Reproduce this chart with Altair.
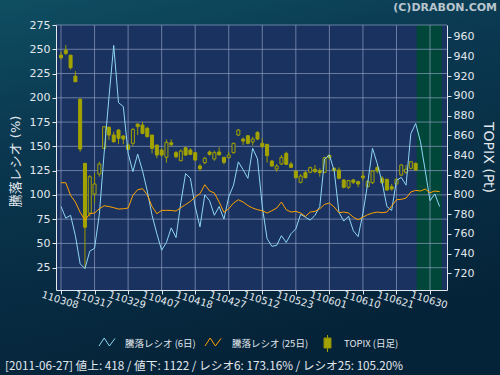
import json
import altair as alt
import pandas as pd

# ---------------- data ----------------
date_labels = ["110308", "110317", "110329", "110407", "110418", "110427",
               "110512", "110523", "110601", "110610", "110621", "110630"]
label_idx = [0, 7, 14, 21, 28, 35, 42, 49, 56, 63, 70, 77]

ratio6 = [88, 76, 79, 58, 29, 24, 42, 45, 80, 143,
          200, 254, 195, 191, 143, 124, 142, 125, 104, 79,
          60, 43, 51, 66, 56, 92, 122, 117, 88, 67,
          100, 94, 79, 88, 75, 98, 110, 134, 126, 117,
          148, 137, 88, 55, 47, 48, 58, 51, 60, 65,
          80, 77, 74, 79, 88, 137, 141, 125, 82, 73,
          78, 63, 57, 81, 112, 148, 132, 113, 88, 84,
          115, 118, 110, 163, 173.5, 155, 125, 94, 101, 88]

ratio25 = [112.5, 112.5, 99.5, 92.6, 82, 74, 80.6, 81.3, 85.7, 88.8,
           88, 86.8, 85.4, 85.7, 86.4, 99.5, 105.3, 106.4, 100, 88,
           80.6, 84, 84, 84, 83.3, 86.8, 90, 93.3, 97.8, 101.2,
           110.5, 104, 102, 92.6, 82, 85.7, 91.6, 95, 92.6, 89,
           86.4, 84.7, 83.7, 81.3, 83.7, 86.4, 92.6, 84.7, 82.3, 83,
           81.3, 77.8, 82.3, 83, 85.7, 90.2, 91.6, 87.5, 81.6, 82.3,
           81.3, 77, 74.4, 77, 79.6, 81.3, 82.3, 81.6, 82.3, 88.5,
           95, 95.4, 96.7, 103, 104.6, 104, 106, 102.2, 104, 103.3]

topix_open = [941.4, 946.5, 941.4, 920.1, 896.8, 831.6, 780.9, 800.5, 820.7, 846.8,
              868.1, 860.3, 865.4, 859.3, 850.2, 851.9, 871.5, 870.4, 867.1, 860.3,
              850.2, 845.1, 837.7, 852.5, 842.4, 834.2, 847.4, 845.1, 842.4, 828.9,
              832.2, 843.1, 836.0, 843.1, 837.7, 837.3, 842.4, 860.3, 856.2, 859.6,
              853.2, 863.0, 851.9, 850.9, 833.9, 825.8, 830.9, 841.7, 830.9, 823.8,
              812.3, 822.1, 822.5, 825.5, 824.1, 822.5, 839.7, 826.5, 824.8, 814.7,
              807.3, 814.7, 813.0, 818.7, 807.9, 811.9, 827.2, 816.4, 815.4, 807.9,
              810.6, 819.7, 822.5, 826.5, 831.6]
topix_close = [938.7, 943.2, 928.6, 914.4, 846.1, 766.7, 818.0, 810.6, 830.9, 868.7,
               860.3, 853.5, 857.0, 856.2, 845.8, 866.1, 868.8, 862.0, 858.6, 846.8,
               840.0, 840.0, 852.9, 850.5, 838.3, 844.1, 840.0, 840.7, 834.9, 826.1,
               836.7, 840.7, 842.4, 840.3, 832.6, 840.0, 851.9, 865.4, 854.2, 851.9,
               856.2, 856.2, 848.4, 839.3, 828.9, 828.9, 837.7, 830.6, 827.5, 817.0,
               818.7, 817.0, 827.2, 823.1, 822.1, 837.3, 837.3, 824.1, 816.4, 807.3,
               814.0, 812.3, 810.6, 817.0, 813.0, 823.8, 823.8, 811.9, 804.5, 805.5,
               815.4, 829.9, 825.5, 833.2, 824.8]
topix_high = [944.8, 951.6, 941.4, 925.2, 896.8, 831.6, 819.7, 821.5, 833.2, 869.4,
              869.4, 863.7, 866.1, 860.3, 851.9, 867.1, 871.5, 873.8, 868.8, 860.3,
              850.2, 846.8, 855.9, 855.9, 844.1, 845.8, 848.4, 846.8, 843.1, 830.9,
              838.3, 844.5, 844.5, 847.8, 837.7, 843.4, 852.5, 866.4, 858.0, 860.3,
              858.6, 864.4, 857.0, 850.9, 834.9, 830.9, 840.0, 843.4, 833.2, 823.8,
              820.7, 823.8, 828.2, 829.9, 826.5, 838.3, 840.7, 827.5, 827.5, 815.4,
              814.7, 815.7, 814.0, 823.8, 814.7, 824.8, 829.9, 818.7, 815.4, 810.6,
              816.4, 830.9, 829.9, 833.9, 832.2]
topix_low = [937.1, 941.4, 926.9, 914.4, 843.4, 725.1, 777.5, 791.0, 818.0, 845.8,
             855.2, 852.5, 851.0, 851.0, 845.1, 849.1, 860.3, 861.3, 858.0, 841.7,
             836.7, 838.3, 832.2, 848.4, 836.7, 834.2, 839.0, 840.0, 834.2, 823.8,
             830.6, 839.3, 834.2, 839.3, 830.6, 836.7, 841.3, 859.3, 850.2, 850.9,
             849.9, 855.2, 847.8, 832.2, 828.2, 823.1, 829.9, 829.9, 827.5, 816.4,
             811.3, 816.4, 821.5, 821.5, 818.0, 821.5, 835.3, 823.1, 815.4, 806.2,
             805.5, 810.6, 807.3, 814.0, 806.9, 810.6, 821.5, 810.6, 803.8, 803.8,
             809.6, 818.7, 820.7, 825.5, 824.1]

left_ticks = [25, 50, 75, 100, 125, 150, 175, 200, 225, 250, 275]
right_ticks = [720, 740, 760, 780, 800, 820, 840, 860, 880, 900, 920, 940, 960]
left_domain = [2, 275]
right_domain = [703, 972]
x_domain = [0, 79.5]
future_start = 74.2   # start of the shaded (future) zone, in trading-day index

series_names = ["騰落レシオ (6日)", "騰落レシオ (25日)", "TOPIX (日足)"]
status_date = "2011-06-27"
n_up, n_down = 418, 1122
ratio6_now, ratio25_now = "173.16%", "105.20%"
copyright_text = "(C)DRABON.COM"

# ---------------- styling ----------------
W, H = 391, 265
NAVY = "#1a325f"
GREEN = "#00473a"
OLIVE = "#a3a300"
BLUE = "#8ed6f5"
ORANGE = "#ffa200"
GRID = "#8d9cc0"
AX = "#e2e8ee"
FONT = "DejaVu Sans, Noto Sans CJK JP"
JFONT = "Noto Sans CJK JP"

one = pd.DataFrame({"a": [0]})

xscale = alt.Scale(domain=x_domain, nice=False, zero=False)
lscale = alt.Scale(domain=left_domain, nice=False, zero=False)
rscale = alt.Scale(domain=right_domain, nice=False, zero=False)

label_expr = json.dumps(date_labels) + "[round(datum.value/7)]"
xaxis = alt.Axis(values=label_idx, labelExpr=label_expr, title=None, grid=False,
                 domainColor=AX, tickColor=AX, tickSize=4, labelColor=AX,
                 labelFont=FONT, labelFontSize=10, labelAngle=17,
                 labelAlign="center", labelBaseline="top", labelPadding=1,
                 labelOverlap=False, labelFlush=False, zindex=2)

# ---------------- background / grid ----------------
grad = alt.Gradient(gradient="linear", x1=0, y1=0, x2=0.3, y2=1,
                    stops=[alt.GradientStop(color="#0f4e62", offset=0),
                           alt.GradientStop(color="#0a3850", offset=0.35),
                           alt.GradientStop(color="#052338", offset=1)])
bg = alt.Chart(one).mark_rect(fill=grad).encode(
    x=alt.value(-56), x2=alt.value(444), y=alt.value(-25), y2=alt.value(350))
plot_bg = alt.Chart(one).mark_rect(fill=NAVY).encode(
    x=alt.value(0), x2=alt.value(W), y=alt.value(0), y2=alt.value(H))
future = alt.Chart(pd.DataFrame({"s": [future_start], "e": [x_domain[1]]})).mark_rect(
    fill=GREEN).encode(
    x=alt.X("s:Q", scale=xscale, axis=xaxis), x2="e:Q",
    y=alt.value(0), y2=alt.value(H))
hgrid = alt.Chart(pd.DataFrame({"v": left_ticks})).mark_rule(
    stroke=GRID, strokeWidth=1, opacity=0.7).encode(
    y=alt.Y("v:Q", scale=lscale, axis=None), x=alt.value(0), x2=alt.value(W))
vgrid = alt.Chart(pd.DataFrame({"i": label_idx})).mark_rule(
    stroke=GRID, strokeWidth=1, opacity=0.7).encode(
    x=alt.X("i:Q", scale=xscale, axis=xaxis), y=alt.value(0), y2=alt.value(H))
layer_bg = alt.layer(bg, plot_bg, future, hgrid, vgrid)

# ---------------- candles ----------------
cd = pd.DataFrame({"idx": list(range(len(topix_open))), "open": topix_open,
                   "close": topix_close, "high": topix_high, "low": topix_low})
raxis = alt.Axis(orient="right", values=right_ticks, title="TOPIX (Pt)",
                 titleFont=FONT, titleFontSize=14, titleFontWeight="normal",
                 titleColor=AX, titleAngle=90, titleX=40, titleY=132,
                 titleAlign="center", titleBaseline="middle",
                 labelFont=FONT, labelFontSize=11, labelColor=AX,
                 domainColor=AX, tickColor=AX, tickSize=4, labelPadding=2,
                 grid=False, zindex=2)
wick = alt.Chart(cd).mark_rule(stroke="#9a9a00", strokeWidth=1).encode(
    x=alt.X("idx:Q", scale=xscale, axis=xaxis),
    y=alt.Y("low:Q", scale=rscale, axis=raxis), y2="high:Q")
body = alt.Chart(cd).mark_bar(size=3, stroke=OLIVE, strokeWidth=1).encode(
    x=alt.X("idx:Q", scale=xscale, axis=xaxis),
    y=alt.Y("open:Q", scale=rscale, axis=raxis), y2="close:Q",
    fill=alt.condition("datum.close >= datum.open", alt.value(NAVY), alt.value(OLIVE)))
layer_candle = alt.layer(wick, body)

# ---------------- ratio lines ----------------
n = len(ratio6)
ld = pd.DataFrame({
    "idx": list(range(n)) * 2,
    "value": ratio6 + ratio25,
    "series": [series_names[0]] * n + [series_names[1]] * n,
})
laxis = alt.Axis(orient="left", values=left_ticks, title="騰落レシオ (%)",
                 titleFont=FONT, titleFontSize=13, titleFontWeight="normal",
                 titleColor=AX, titleAngle=270, titleX=-41, titleY=136,
                 titleAlign="center", titleBaseline="middle",
                 labelFont=FONT, labelFontSize=11, labelColor=AX,
                 domainColor=AX, tickColor=AX, tickSize=4, labelPadding=2,
                 grid=False, zindex=2)
lines = alt.Chart(ld).mark_line(strokeWidth=1).encode(
    x=alt.X("idx:Q", scale=xscale, axis=xaxis),
    y=alt.Y("value:Q", scale=lscale, axis=laxis),
    color=alt.Color("series:N", scale=alt.Scale(domain=series_names[:2],
                                                range=[BLUE, ORANGE]), legend=None),
    detail="series:N")

# ---------------- legend / texts ----------------
zig = "M-1,0.5L-0.35,-0.5L0.3,0.5L1,-0.45"
deco = []
deco.append(alt.Chart(one).mark_point(shape=zig, filled=False, size=256, stroke=BLUE,
                                      strokeWidth=1, opacity=1).encode(
    x=alt.value(51), y=alt.value(317)))
deco.append(alt.Chart(one).mark_point(shape=zig, filled=False, size=256, stroke=ORANGE,
                                      strokeWidth=1, opacity=1).encode(
    x=alt.value(157), y=alt.value(317)))
deco.append(alt.Chart(one).mark_rule(stroke=OLIVE, strokeWidth=1).encode(
    x=alt.value(271.5), y=alt.value(310), y2=alt.value(327)))
deco.append(alt.Chart(one).mark_rect(fill=OLIVE, stroke="#8c8c00").encode(
    x=alt.value(268), x2=alt.value(275), y=alt.value(313), y2=alt.value(323)))
for txt, xpos in zip(series_names, [69, 176, 288]):
    deco.append(alt.Chart(one).mark_text(text=txt, font=JFONT, fontSize=9.5, color=AX,
                                         align="left", baseline="middle").encode(
        x=alt.value(xpos), y=alt.value(319)))
status = (f"[{status_date}]  値上: {n_up} / 値下: {n_down} / "
          f"レシオ6: {ratio6_now} / レシオ25: {ratio25_now}")
deco.append(alt.Chart(one).mark_text(text=status, font=JFONT, fontSize=11.7, color=AX,
                                     align="left", baseline="middle").encode(
    x=alt.value(-51), y=alt.value(341)))
deco.append(alt.Chart(one).mark_text(text=copyright_text, font=FONT, fontSize=11,
                                     fontWeight="bold", color="#b9c5cd",
                                     align="right", baseline="middle").encode(
    x=alt.value(441), y=alt.value(-17)))

chart = alt.layer(layer_bg, layer_candle, lines, *deco).resolve_scale(
    y="independent").properties(
    width=W, height=H,
    autosize=alt.AutoSizeParams(type="none"),
    padding={"left": 56, "top": 25, "right": 53, "bottom": 85},
    background="#082f45",
).configure_view(stroke=None)

chart.save("out.html", embed_options={"renderer": "svg", "actions": False})
